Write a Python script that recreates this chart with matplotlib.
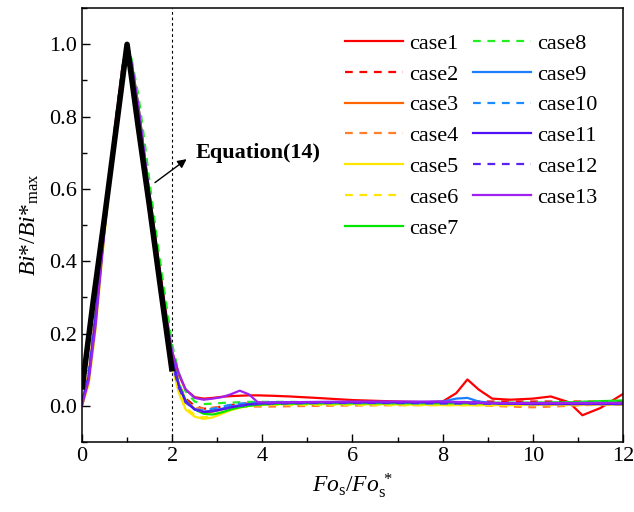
import matplotlib
matplotlib.use('Agg')
import matplotlib.pyplot as plt
from matplotlib.ticker import MultipleLocator

plt.rcParams['font.family'] = 'Liberation Serif'
plt.rcParams['mathtext.fontset'] = 'custom'
plt.rcParams['mathtext.rm'] = 'Liberation Serif'
plt.rcParams['mathtext.it'] = 'Liberation Serif:italic'
plt.rcParams['mathtext.bf'] = 'Liberation Serif:bold'

# shared Fos/Fos* grid
x = [0, 0.15, 0.3, 0.45, 0.6, 0.75, 0.9, 1.0, 1.1, 1.25, 1.4, 1.55, 1.7, 1.85, 2.0,
     2.15, 2.3, 2.5, 2.7, 2.9, 3.1, 3.3, 3.5, 3.7, 3.9, 4.2, 4.6, 5.2, 6.0, 7.0,
     7.6, 8.0, 8.3, 8.55, 8.8, 9.1, 9.5, 10.0, 10.4, 10.8, 11.1, 11.5, 12.0]

case1 = [0.00, 0.08, 0.24, 0.43, 0.62, 0.79, 0.94, 1.0, 0.95, 0.83, 0.68, 0.54, 0.40, 0.27, 0.15,
         0.085, 0.045, 0.024, 0.02, 0.022, 0.025, 0.027, 0.028, 0.029, 0.029, 0.028, 0.026, 0.022, 0.016, 0.012,
         0.010, 0.012, 0.035, 0.073, 0.045, 0.02, 0.017, 0.02, 0.026, 0.01, -0.026, -0.006, 0.033]
case2 = [0.01, 0.09, 0.25, 0.44, 0.63, 0.79, 0.94, 1.0, 0.95, 0.82, 0.67, 0.52, 0.38, 0.25, 0.13,
         0.06, 0.02, 0.0, -0.008, -0.006, -0.002, 0.002, 0.005, 0.007, 0.008, 0.009, 0.01, 0.01, 0.01, 0.009,
         0.009, 0.01, 0.01, 0.011, 0.012, 0.012, 0.012, 0.012, 0.012, 0.012, 0.012, 0.011, 0.01]
case3 = [0.01, 0.09, 0.25, 0.44, 0.62, 0.78, 0.93, 1.0, 0.94, 0.82, 0.67, 0.52, 0.38, 0.25, 0.13,
         0.06, 0.015, -0.008, -0.018, -0.016, -0.01, -0.004, 0.0, 0.003, 0.005, 0.006, 0.007, 0.008, 0.008, 0.008,
         0.008, 0.008, 0.008, 0.008, 0.008, 0.007, 0.006, 0.006, 0.006, 0.006, 0.006, 0.006, 0.006]
case4 = [0.01, 0.09, 0.25, 0.44, 0.62, 0.78, 0.93, 1.0, 0.94, 0.82, 0.67, 0.52, 0.37, 0.24, 0.12,
         0.05, 0.01, -0.005, -0.008, -0.005, -0.003, -0.002, -0.002, -0.002, -0.002, -0.002, -0.001, 0.0, 0.001, 0.002,
         0.002, 0.003, 0.003, 0.003, 0.002, 0.0, -0.002, -0.004, -0.002, 0.0, 0.002, 0.003, 0.004]
case5 = [0.00, 0.06, 0.21, 0.41, 0.60, 0.77, 0.93, 1.0, 0.94, 0.81, 0.66, 0.51, 0.36, 0.23, 0.11,
         0.035, -0.01, -0.03, -0.036, -0.032, -0.022, -0.012, -0.005, 0.0, 0.002, 0.004, 0.005, 0.005, 0.005, 0.004,
         0.003, 0.002, 0.002, 0.002, 0.002, 0.002, 0.002, 0.003, 0.003, 0.003, 0.003, 0.004, 0.004]
case6 = [0.00, 0.07, 0.22, 0.42, 0.61, 0.78, 0.93, 1.0, 0.94, 0.81, 0.66, 0.51, 0.36, 0.23, 0.11,
         0.04, -0.005, -0.025, -0.032, -0.028, -0.018, -0.01, -0.004, 0.0, 0.002, 0.003, 0.003, 0.003, 0.003, 0.002,
         0.002, 0.002, 0.002, 0.002, 0.002, 0.002, 0.002, 0.002, 0.002, 0.002, 0.002, 0.003, 0.003]
case7 = [0.01, 0.08, 0.23, 0.43, 0.62, 0.78, 0.93, 1.0, 0.95, 0.83, 0.68, 0.53, 0.38, 0.25, 0.13,
         0.06, 0.015, -0.01, -0.022, -0.024, -0.018, -0.01, -0.004, 0.0, 0.003, 0.005, 0.006, 0.007, 0.007, 0.007,
         0.007, 0.007, 0.007, 0.007, 0.007, 0.007, 0.007, 0.008, 0.009, 0.01, 0.011, 0.013, 0.015]
case8 = [0.01, 0.08, 0.24, 0.44, 0.62, 0.78, 0.93, 1.0, 0.96, 0.86, 0.72, 0.57, 0.43, 0.30, 0.17,
         0.09, 0.04, 0.012, 0.005, 0.006, 0.008, 0.009, 0.01, 0.011, 0.011, 0.011, 0.011, 0.01, 0.01, 0.009,
         0.009, 0.009, 0.009, 0.009, 0.009, 0.009, 0.009, 0.009, 0.009, 0.01, 0.011, 0.012, 0.013]
case9 = [0.01, 0.08, 0.24, 0.43, 0.62, 0.78, 0.93, 1.0, 0.94, 0.82, 0.67, 0.52, 0.38, 0.25, 0.13,
         0.055, 0.012, -0.01, -0.016, -0.013, -0.008, -0.002, 0.002, 0.005, 0.007, 0.009, 0.01, 0.01, 0.01, 0.01,
         0.01, 0.012, 0.02, 0.022, 0.012, 0.008, 0.006, 0.005, 0.006, 0.007, 0.008, 0.008, 0.008]
case10 = [0.01, 0.09, 0.25, 0.44, 0.63, 0.79, 0.94, 1.0, 0.94, 0.82, 0.67, 0.52, 0.38, 0.25, 0.12,
          0.05, 0.01, -0.01, -0.012, -0.008, -0.002, 0.003, 0.006, 0.008, 0.009, 0.01, 0.01, 0.01, 0.009, 0.008,
          0.007, 0.007, 0.007, 0.007, 0.007, 0.007, 0.007, 0.006, 0.006, 0.006, 0.006, 0.006, 0.006]
case11 = [0.01, 0.08, 0.24, 0.43, 0.62, 0.78, 0.93, 1.0, 0.94, 0.82, 0.67, 0.52, 0.38, 0.25, 0.13,
          0.055, 0.012, -0.01, -0.017, -0.015, -0.01, -0.004, 0.0, 0.004, 0.006, 0.008, 0.009, 0.01, 0.01, 0.01,
          0.01, 0.01, 0.01, 0.009, 0.008, 0.007, 0.006, 0.005, 0.005, 0.005, 0.005, 0.005, 0.005]
case12 = [0.01, 0.08, 0.24, 0.44, 0.62, 0.78, 0.93, 1.0, 0.94, 0.82, 0.67, 0.52, 0.38, 0.25, 0.12,
          0.05, 0.01, -0.01, -0.016, -0.014, -0.01, -0.004, 0.0, 0.003, 0.005, 0.006, 0.007, 0.008, 0.008, 0.008,
          0.008, 0.007, 0.007, 0.007, 0.006, 0.006, 0.006, 0.005, 0.005, 0.005, 0.005, 0.005, 0.005]
case13 = [0.00, 0.07, 0.22, 0.42, 0.61, 0.78, 0.93, 1.0, 0.95, 0.83, 0.68, 0.53, 0.39, 0.26, 0.15,
          0.09, 0.045, 0.022, 0.017, 0.02, 0.024, 0.032, 0.042, 0.032, 0.01, 0.009, 0.01, 0.011, 0.012, 0.012,
          0.012, 0.012, 0.011, 0.01, 0.009, 0.008, 0.008, 0.008, 0.008, 0.008, 0.008, 0.008, 0.008]

# Equation(14)
eq_x = [0, 0.25, 0.5, 0.75, 1.0, 1.25, 1.5, 1.75, 2.0]
eq_y = [0.045, 0.29, 0.52, 0.76, 1.0, 0.77, 0.55, 0.32, 0.095]

cases = [case1, case2, case3, case4, case5, case6, case7,
         case8, case9, case10, case11, case12, case13]
labels = ['case' + str(i) for i in range(1, 14)]
colors = ['#FF0000', '#FF0000', '#FF6600', '#FF7F2A', '#FFE600', '#FFE600', '#00E600',
          '#22EE22', '#1A7FFF', '#1A8CFF', '#5010F5', '#5A22F0', '#A020F0']
styles = ['-', '--', '-', '--', '-', '--', '-', '--', '-', '--', '-', '--', '-']

fig = plt.figure(figsize=(6.34, 5.12), dpi=100)
ax = fig.add_axes([0.1293, 0.1367, 0.8533, 0.8473])

for y, lab, c, s in zip(cases, labels, colors, styles):
    if s == '--':
        ax.plot(x, y, color=c, lw=1.6, dashes=(3.5, 3), label=lab)
    else:
        ax.plot(x, y, color=c, lw=1.6, label=lab)

ax.plot(eq_x, eq_y, color='k', lw=4.0, solid_capstyle='butt', zorder=5)
ax.axvline(2, color='k', lw=0.8, dashes=(2.5, 2.5), zorder=1)

ax.annotate('Equation(14)', xy=(2.35, 0.685), xytext=(2.52, 0.70),
            fontsize=16, fontweight='bold', va='center', ha='left')
ax.annotate('', xy=(2.37, 0.687), xytext=(1.57, 0.613),
            arrowprops=dict(arrowstyle='-|>', color='k', lw=1, mutation_scale=13))

ax.set_xlim(0, 12)
ax.set_ylim(-0.1, 1.1)
ax.xaxis.set_major_locator(MultipleLocator(2))
ax.xaxis.set_minor_locator(MultipleLocator(1))
ax.yaxis.set_major_locator(MultipleLocator(0.2))
ax.yaxis.set_minor_locator(MultipleLocator(0.1))
ax.set_yticks([0, 0.2, 0.4, 0.6, 0.8, 1.0])
ax.tick_params(which='both', direction='in', labelsize=16, top=False, right=False)
ax.tick_params(which='major', length=6, width=1)
ax.tick_params(which='minor', length=3.5, width=1)
ax.yaxis.set_major_formatter(plt.FuncFormatter(lambda v, p: '%.1f' % v))
for sp in ax.spines.values():
    sp.set_linewidth(1.1)

ax.set_xlabel(r'$Fo_\mathrm{s}/Fo_\mathrm{s}^{\,*}$', fontsize=17, labelpad=4)
ax.set_ylabel(r'$Bi$*/$Bi$*$_\mathrm{max}$', fontsize=17, labelpad=6)

ax.legend(loc='upper left', bbox_to_anchor=(0.486, 0.942), ncol=2, frameon=False,
          fontsize=16, borderpad=0, borderaxespad=0, handlelength=2.6,
          handletextpad=0.3, columnspacing=0.65, labelspacing=0.46)

fig.savefig('out.png', dpi=100)
